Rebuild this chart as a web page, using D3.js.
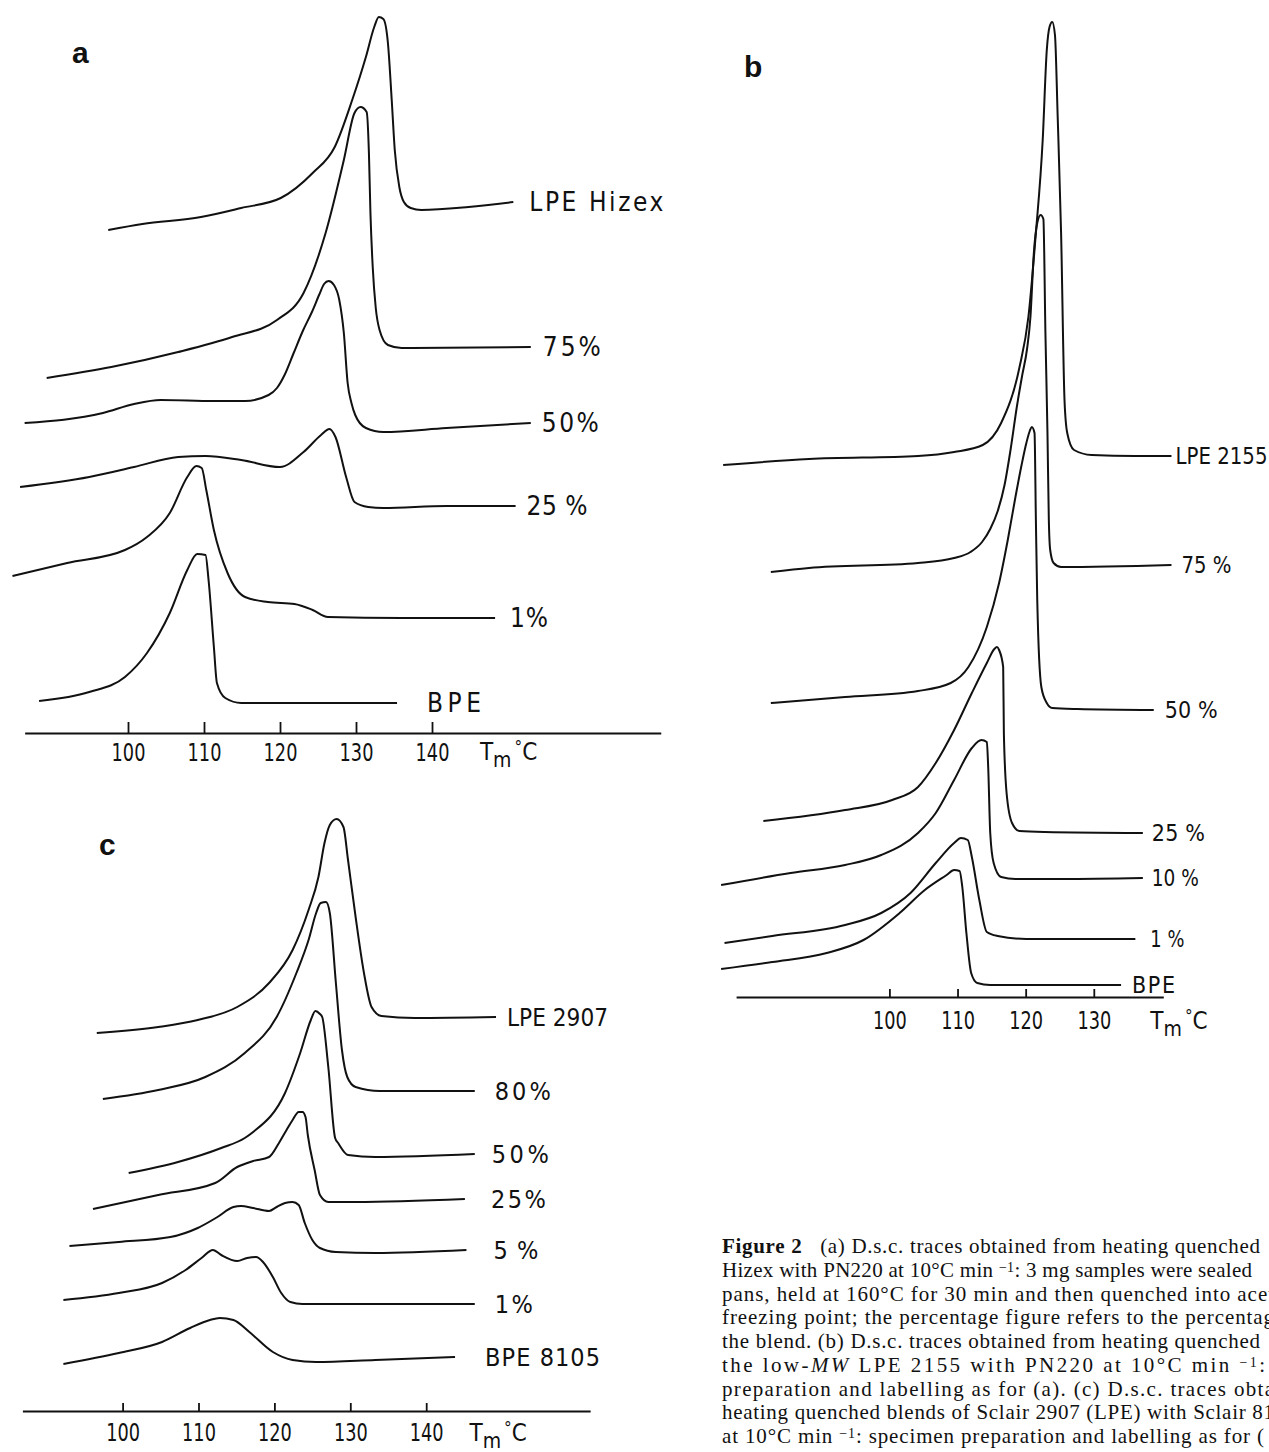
<!DOCTYPE html>
<html>
<head>
<meta charset="utf-8">
<script src="https://cdn.jsdelivr.net/npm/d3@7"></script>
<style>
body { margin: 0; background: #fff; }
svg { display: block; }
.lbl { font-family: "Liberation Sans Narrow", "DejaVu Sans Condensed", "Roboto Condensed", sans-serif; font-size: 23px; fill: #111; }
.tick text.lbl { font-size: 24px; }
</style>
</head>
<body>
<script>
// ---- panel a : LPE Hizex / PN220 blends (T in degC, heat flow in arbitrary units above baseline axis)
const ticksA = [100, 110, 120, 130, 140]
const labelsA = ['LPE Hizex', '75%', '50%', '25 %', '1%', 'BPE']
const hizexA = [[97.4,503],[101.9,509],[109.6,516],[114.9,525],[120.1,535],[124.3,560],[127.2,586],[129.5,633],[131.3,676],[132.4,706],[133.0,716],[133.6,714],[134.2,690],[134.7,633],[135.1,583],[135.7,546],[136.3,531],[137.2,525],[138.6,523],[144.8,526],[150.7,531]]
const blend75A = [[89.3,355],[97.8,366],[106.6,381],[113.7,396],[119.6,413],[123.1,440],[126.0,500],[128.4,573],[129.8,620],[130.6,626],[131.4,621],[131.7,580],[131.9,520],[132.2,466],[132.6,425],[133.1,403],[134.2,388],[136.0,385],[153.0,386]]
const blend50A = [[86.4,310],[96.7,320],[100.8,329],[104.3,333],[111.3,332],[115.4,332],[118.5,338],[119.6,345],[120.6,358],[121.8,380],[123.0,402],[124.2,421],[125.2,439],[125.8,449],[126.4,452],[127.1,448],[127.8,433],[128.4,400],[128.9,350],[129.4,330],[129.9,318],[131.3,305],[133.6,301],[141.9,305],[153.0,310]]
const blend25A = [[85.8,246],[94.9,256],[100.8,266],[106.6,276],[110.2,277],[114.9,273],[120.0,266],[123.1,281],[125.4,298],[126.5,304],[127.3,296],[128.7,256],[129.8,231],[131.6,226],[133.6,225],[141.9,227],[151.0,227]]
const blend1A = [[84.8,157],[92.0,170],[99.6,183],[102.5,196],[105.5,220],[107.8,256],[109.0,267],[109.7,265],[110.3,243],[111.3,203],[113.1,160],[115.4,136],[118.4,131],[121.9,129],[124.3,123],[126.3,116],[136.0,115],[148.3,115]]
const bpeA = [[88.3,32],[94.9,41],[99.6,56],[102.5,80],[105.5,120],[107.8,163],[109.1,179],[110.2,178],[110.6,153],[111.3,86],[111.7,50],[112.8,35],[114.9,30],[135.4,30]]

// ---- panel b : low-MW LPE 2155 / PN220 blends
const ticksB = [100, 110, 120, 130]
const labelsB = ['LPE 2155', '75 %', '50 %', '25 %', '10 %', '1 %', 'BPE']
const lpe2155B = [[75.6,532],[88.2,538],[104.2,541],[109.5,545],[113.7,552],[116.4,574],[119.1,630],[120.4,680],[121.5,764],[122.5,857],[123.1,947],[123.5,970],[123.9,975],[124.3,962],[124.7,880],[125.2,764],[125.7,597],[126.1,564],[127.1,547],[129.7,542],[136.1,541],[141.4,541]]
const blend75B = [[82.6,425],[88.2,429],[104.2,434],[109.5,439],[111.9,445],[113.6,455],[114.8,468],[115.9,486],[116.9,512],[117.8,548],[118.7,590],[119.5,622],[120.2,648],[120.7,680],[121.2,744],[121.7,774],[122.2,782],[122.6,778],[122.9,664],[123.2,564],[123.4,477],[123.6,447],[124.1,434],[125.2,430],[141.4,432]]
const blend50B = [[82.6,294],[93.5,300],[104.2,306],[109.0,314],[111.6,330],[114.3,370],[116.1,414],[117.4,458],[118.5,500],[119.4,532],[120.1,554],[120.6,566],[120.9,570],[121.3,564],[121.5,477],[121.7,397],[122.3,310],[123.1,294],[123.9,289],[127.6,288],[138.8,287]]
const blend25B = [[81.5,176],[93.5,187],[100.4,197],[104.2,210],[106.8,234],[109.5,267],[112.1,304],[114.3,334],[115.4,348],[115.8,350],[116.1,347],[116.7,330],[116.8,264],[117.2,204],[118.0,174],[119.1,166],[122.8,165],[137.2,164]]
const blend10B = [[75.3,112],[85.5,124],[93.5,132],[98.8,142],[104.2,164],[106.8,184],[109.5,217],[112.1,249],[113.5,257],[114.3,255],[114.5,230],[114.8,164],[115.3,134],[116.4,120],[118.5,118],[125.5,118],[137.2,119]]
const blend1B = [[75.8,54],[82.8,61],[93.5,72],[98.8,84],[103.1,104],[106.8,134],[109.5,154],[110.5,159],[111.5,157],[112.1,140],[113.2,97],[114.3,65],[115.9,61],[120.1,58],[136.1,58]]
const bpeB = [[75.3,28],[82.8,35],[90.8,44],[96.2,57],[101.5,84],[105.2,107],[108.4,122],[109.5,127],[110.3,126],[110.7,110],[111.3,64],[112.0,24],[112.9,14],[114.8,12],[134.0,12]]

// ---- panel c : Sclair 2907 (LPE) / Sclair 8105 (BPE) blends
const ticksC = [100, 110, 120, 130, 140]
const labelsC = ['LPE 2907', '80%', '50%', '25%', '5 %', '1%', 'BPE 8105']
const lpe2907C = [[96.6,378],[104.7,384],[109.9,391],[115.1,404],[119.3,428],[122.4,461],[124.5,501],[125.8,534],[126.6,568],[127.3,586],[128.2,592],[129.1,584],[129.7,551],[130.7,494],[131.8,438],[132.8,404],[134.1,395],[138.5,393],[149.2,394]]
const blend80C = [[97.4,312],[104.7,321],[110.9,334],[116.1,358],[120.3,394],[122.9,438],[124.5,471],[125.5,498],[126.1,508],[126.8,509],[127.3,498],[128.1,428],[128.9,361],[129.6,334],[130.7,324],[133.9,320],[146.4,320]]
const blend50C = [[100.8,238],[107.3,249],[113.0,263],[116.1,273],[117.2,279],[121.4,318],[123.4,358],[124.8,391],[125.4,400],[126.0,397],[126.3,394],[127.1,344],[128.0,273],[128.4,268],[129.7,256],[133.3,254],[146.4,257]]
const blend25C = [[96.1,202],[104.7,216],[112.2,228],[115.1,244],[117.2,250],[119.3,254],[120.6,268],[121.6,281],[122.4,291],[123.2,299],[123.7,299],[124.1,294],[124.4,276],[125.3,241],[126.0,216],[127.1,209],[130.7,209],[145.1,212]]
const blend5C = [[93.0,165],[99.5,169],[106.3,174],[109.9,183],[112.5,194],[114.6,204],[115.6,205],[117.2,203],[119.3,200],[120.3,204],[121.4,208],[122.4,209],[123.2,206],[124.0,188],[125.0,171],[126.0,163],[128.1,159],[133.3,158],[145.3,161]]
const blend1C = [[92.2,111],[99.5,118],[105.2,128],[108.3,141],[110.4,153],[111.9,161],[113.0,156],[115.1,150],[116.4,153],[117.6,154],[118.5,149],[119.8,134],[120.9,118],[122.1,109],[123.7,107],[146.4,107]]
const bpe8105C = [[92.2,47],[99.5,58],[105.2,69],[108.9,83],[111.5,91],[112.8,93],[114.6,91],[116.7,79],[119.8,59],[122.4,51],[125.5,49],[133.3,51],[143.8,54]]

// ---- caption
const captionLines = [
    [['Figure 2', 'b'], ['   (a) D.s.c. traces obtained from heating quenched']],
    [['Hizex with PN220 at 10°C min '], ['−1', 'sup'], [': 3 mg samples were sealed']],
    [['pans, held at 160°C for 30 min and then quenched into acet']],
    [['freezing point; the percentage figure refers to the percentag']],
    [['the blend. (b) D.s.c. traces obtained from heating quenched']],
    [['the low-'], ['MW', 'i'], [' LPE 2155 with PN220 at 10°C min '], ['−1', 'sup'], [':']],
    [['preparation and labelling as for (a). (c) D.s.c. traces obta']],
    [['heating quenched blends of Sclair 2907 (LPE) with Sclair 81']],
    [['at 10°C min '], ['−1', 'sup'], [': specimen preparation and labelling as for (']]
]
const captionWidths = [538, 530, 552, 552, 538, 543, 552, 552, 542]

const panels = [
    { traces: [hizexA, blend75A, blend50A, blend25A, blend1A, bpeA], names: labelsA, ticks: ticksA,
      calib: [[100, 140], [128, 432]], extent: [86.4, 170.1], axisY: 733, tickLen: 11, pad: 11,
      gaps: [16, 12, 11, 11, 15, 30], widths: [134, 58, 57, 61, 38, 54], fontSize: 26,
      unitAt: 146.3, unitDy: 27, letter: 'a', letterPos: [72, 63] },
    { traces: [lpe2155B, blend75B, blend50B, blend25B, blend10B, blend1B, bpeB], names: labelsB, ticks: ticksB,
      calib: [[100, 130], [889.4, 1093.8]], extent: [77.5, 140.2], axisY: 997, tickLen: 8, pad: 15,
      gaps: [4, 10, 11, 9, 9, 15, 11], widths: [92, 50, 53, 53, 47, 34, 43], fontSize: 23,
      unitAt: 138.3, unitDy: 32, letter: 'b', letterPos: [744, 77] },
    { traces: [lpe2907C, blend80C, blend50C, blend25C, blend5C, blend1C, bpe8105C], names: labelsC, ticks: ticksC,
      calib: [[100, 140], [122.6, 426.2]], extent: [86.8, 161.6], axisY: 1411, tickLen: 8, pad: 13,
      gaps: [11, 20, 17, 26, 27, 20, 30], widths: [101, 56, 57, 55, 45, 38, 115], fontSize: 25,
      unitAt: 145.7, unitDy: 30, letter: 'c', letterPos: [99, 855] }
]

const svg = d3.select('body').append('svg')
    .attr('width', 1269)
    .attr('height', 1452)

svg.append('rect').attr('width', 1269).attr('height', 1452).attr('fill', '#fff')

// fit a text to a width: stretch the gaps if it is too short, squeeze glyphs if too long
function fitText(sel, w) {
    const nat = sel.node().getComputedTextLength()
    sel.attr('textLength', w).attr('lengthAdjust', w < nat ? 'spacingAndGlyphs' : 'spacing')
}

panels.forEach(p => {
    // temperature scale calibrated on the printed ticks, stretched to the drawn axis length
    const cal = d3.scaleLinear().domain(p.calib[0]).range(p.calib[1])
    const x = d3.scaleLinear().domain(p.extent).range(p.extent.map(cal))
    // heat flow, zero on the axis line
    const y = d3.scaleLinear().domain([0, 100]).range([p.axisY, p.axisY - 100])

    const g = svg.append('g')

    const axis = g.append('g')
        .attr('transform', 'translate(0,' + p.axisY + ')')
        .call(d3.axisBottom(x)
            .tickValues(p.ticks)
            .tickSizeInner(-p.tickLen)
            .tickSizeOuter(0)
            .tickPadding(p.pad)
            .tickFormat(d3.format('d')))
        .attr('font-family', null)
        .attr('font-size', null)
    axis.select('.domain').attr('stroke', '#111').attr('stroke-width', 2)
    axis.selectAll('.tick line').attr('stroke', '#111').attr('stroke-width', 1.8)
    axis.selectAll('.tick text')
        .attr('class', 'lbl')
        .attr('fill', '#111')
        .each(function () {
            const t = d3.select(this)
            fitText(t, this.getComputedTextLength() * 0.82)
        })

    // T_m °C unit label
    const unit = g.append('text')
        .attr('class', 'lbl')
        .style('font-size', '24px')
        .attr('x', x(p.unitAt))
        .attr('y', p.axisY + p.unitDy)
    unit.append('tspan').text('T')
    unit.append('tspan').attr('dy', 7).style('font-size', '21px').text('m')
    unit.append('tspan').attr('dy', -14).attr('dx', 3).style('font-size', '17px').text('°')
    unit.append('tspan').attr('dy', 7).text('C')

    const line = d3.line()
        .x(d => x(d[0]))
        .y(d => y(d[1]))
        .curve(d3.curveMonotoneX)

    g.selectAll('.trace')
        .data(p.traces)
        .join('path')
        .attr('class', 'trace')
        .attr('d', line)
        .attr('fill', 'none')
        .attr('stroke', '#111')
        .attr('stroke-width', 2)
        .attr('stroke-linejoin', 'round')

    g.selectAll('.name')
        .data(p.traces)
        .join('text')
        .attr('class', 'lbl name')
        .style('font-size', p.fontSize + 'px')
        .attr('x', (d, i) => x(d[d.length - 1][0]) + p.gaps[i])
        .attr('y', d => y(d[d.length - 1][1]))
        .attr('dy', '0.36em')
        .text((d, i) => p.names[i])
        .each(function (d, i) { fitText(d3.select(this), p.widths[i]) })

    g.append('text')
        .attr('x', p.letterPos[0])
        .attr('y', p.letterPos[1])
        .attr('font-family', 'Liberation Sans, Arial, sans-serif')
        .attr('font-weight', 'bold')
        .attr('font-size', 30)
        .attr('fill', '#111')
        .text(p.letter)
})

// caption, cut at the right edge like the scan
const cap = svg.append('g')
    .attr('font-family', 'Liberation Serif, Times New Roman, serif')
    .attr('font-size', 21)
    .attr('fill', '#111')

captionLines.forEach((segs, i) => {
    const t = cap.append('text')
        .attr('x', 722)
        .attr('y', 1253 + i * 23.75)
        .style('white-space', 'pre')
    segs.forEach(s => {
        const ts = t.append('tspan').text(s[0])
        if (s[1] === 'b') ts.attr('font-weight', 'bold')
        if (s[1] === 'i') ts.attr('font-style', 'italic')
        if (s[1] === 'sup') ts.attr('baseline-shift', '35%').attr('font-size', 14)
    })
    fitText(t, captionWidths[i])
})
</script>
</body>
</html>
